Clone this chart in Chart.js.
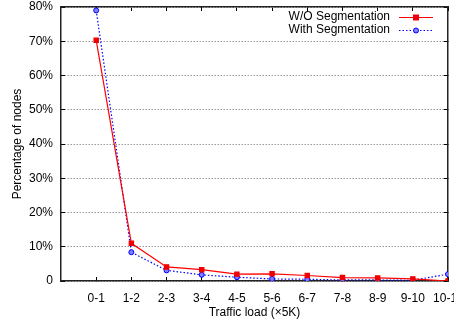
<!DOCTYPE html>
<html>
<head>
<meta charset="utf-8">
<script src="https://cdn.jsdelivr.net/npm/chart.js@4/dist/chart.umd.min.js"></script>
<style>
  html, body { margin: 0; padding: 0; background: #fff; overflow: hidden; }
  .wrap { width: 454px; height: 322px; position: relative; }
</style>
</head>
<body>
<div class="wrap"><canvas id="chart"></canvas></div>
<script>
// category labels along the x axis
const categories = ['0-1', '1-2', '2-3', '3-4', '4-5', '5-6', '6-7', '7-8', '8-9', '9-10', '10-11'];
// percentage of nodes per traffic load bin
const withoutSeg = [70.3, 11.0, 4.1, 3.3, 2.0, 2.1, 1.6, 1.0, 0.9, 0.6, 0.0];
const withSeg = [79.0, 8.4, 3.1, 1.8, 1.1, 0.6, 0.5, 0.3, 0.3, 0.2, 2.0];
const yTicks = [0, 10, 20, 30, 40, 50, 60, 70, 80];

const FONT = { family: "'Liberation Sans', Arial, sans-serif", size: 12 };
const toPoints = arr => arr.map((v, i) => ({ x: i, y: v }));

// legend drawn gnuplot-style: text right aligned, sample line + marker on the right
const gnuLegend = {
  id: 'gnuLegend',
  afterDraw(chart) {
    const ctx = chart.ctx;
    const area = chart.chartArea;
    const textRight = area.right - 58;
    const lineStart = area.right - 49;
    const lineEnd = area.right - 15;
    ctx.save();
    ctx.font = `${FONT.size}px ${FONT.family}`;
    ctx.textAlign = 'right';
    ctx.textBaseline = 'middle';
    chart.data.datasets.forEach((ds, i) => {
      const y = area.top + 10 + i * 13;
      ctx.fillStyle = '#000';
      ctx.fillText(ds.label, textRight, y);
      ctx.strokeStyle = ds.borderColor;
      ctx.lineWidth = ds.borderWidth;
      ctx.setLineDash(ds.borderDash || []);
      ctx.beginPath();
      ctx.moveTo(lineStart, y + 0.5);
      ctx.lineTo(lineEnd, y + 0.5);
      ctx.stroke();
      ctx.setLineDash([]);
      const mx = (lineStart + lineEnd) / 2;
      ctx.fillStyle = ds.pointBackgroundColor;
      ctx.strokeStyle = ds.borderColor;
      ctx.lineWidth = 1;
      if (ds.pointStyle === 'rect') {
        const r = ds.pointRadius;
        ctx.fillRect(mx - r, y + 0.5 - r, 2 * r, 2 * r);
      } else {
        ctx.beginPath();
        ctx.arc(mx, y + 0.5, ds.pointRadius, 0, Math.PI * 2);
        ctx.fill();
        ctx.stroke();
      }
    });
    ctx.restore();
  }
};

const xTickBuild = s => { s.ticks = categories.map((c, i) => ({ value: i })); };
const yTickBuild = s => { s.ticks = yTicks.map(v => ({ value: v })); };
// fixed box sizes, no overflow padding from the tick labels
const fixSize = (w, h) => s => {
  if (w !== null) s.width = w;
  if (h !== null) s.height = h;
  s.paddingTop = s.paddingBottom = s.paddingLeft = s.paddingRight = 0;
};

const ctx = document.getElementById('chart').getContext('2d');
new Chart(ctx, {
  type: 'line',
  data: {
    datasets: [
      {
        label: 'W/O Segmentation',
        data: toPoints(withoutSeg),
        borderColor: '#ff0000',
        backgroundColor: '#ff0000',
        pointBackgroundColor: '#ee0000',
        pointBorderColor: '#ee0000',
        borderWidth: 1.2,
        pointStyle: 'rect',
        pointRadius: 3,
        tension: 0,
      },
      {
        label: 'With Segmentation',
        data: toPoints(withSeg),
        borderColor: '#0000ff',
        backgroundColor: '#0000ff',
        pointBackgroundColor: '#7f7fff',
        pointBorderColor: '#0000ff',
        pointBorderWidth: 1,
        borderWidth: 1.2,
        borderDash: [1.5, 2],
        pointStyle: 'circle',
        pointRadius: 2.5,
        tension: 0,
      },
    ],
  },
  options: {
    responsive: true,
    maintainAspectRatio: false,
    animation: false,
    layout: { padding: 0 },
    plugins: {
      legend: { display: false },
      tooltip: { enabled: false },
    },
    scales: {
      x: {
        type: 'linear',
        position: 'bottom',
        min: -1,
        max: 10,
        afterBuildTicks: xTickBuild,
        afterFit: fixSize(null, 41),
        grid: { drawOnChartArea: false, drawTicks: true, tickLength: -4, color: '#000', tickColor: '#000' },
        border: { display: true, color: '#222', width: 1.5 },
        ticks: {
          color: '#000',
          font: FONT,
          padding: 14,
          maxRotation: 0,
          autoSkip: false,
          callback: v => categories[v] ?? '',
        },
        title: {
          display: true,
          text: 'Traffic load (×5K)',
          color: '#000',
          font: FONT,
          padding: { top: 0, bottom: 2 },
        },
      },
      x2: {
        type: 'linear',
        position: 'top',
        min: -1,
        max: 10,
        afterBuildTicks: xTickBuild,
        afterFit: fixSize(null, 7),
        grid: { drawOnChartArea: false, drawTicks: true, tickLength: -4, color: '#000', tickColor: '#000' },
        border: { display: true, color: '#222', width: 1.5 },
        ticks: { display: false },
      },
      y: {
        min: 0,
        max: 80,
        afterBuildTicks: yTickBuild,
        afterFit: fixSize(61, null),
        grid: {
          color: '#999',
          lineWidth: 1,
          drawTicks: true,
          tickLength: -4,
          tickColor: '#000',
          tickBorderDash: [],
        },
        border: { display: true, color: '#222', width: 1.5, dash: [1.5, 1.5] },
        ticks: {
          color: '#000',
          font: FONT,
          padding: 12,
          callback: v => (v === 0 ? '0' : v + '%'),
        },
        title: {
          display: true,
          text: 'Percentage of nodes',
          color: '#000',
          font: FONT,
          padding: { top: 10, bottom: 0 },
        },
      },
      y2: {
        position: 'right',
        min: 0,
        max: 80,
        afterBuildTicks: yTickBuild,
        afterFit: fixSize(6, null),
        grid: {
          drawOnChartArea: false,
          drawTicks: true,
          tickLength: -4,
          color: '#000',
          tickColor: '#000',
          tickBorderDash: [],
        },
        border: { display: true, color: '#222', width: 1.5 },
        ticks: { display: false },
      },
    },
  },
  plugins: [gnuLegend],
});
</script>
</body>
</html>
